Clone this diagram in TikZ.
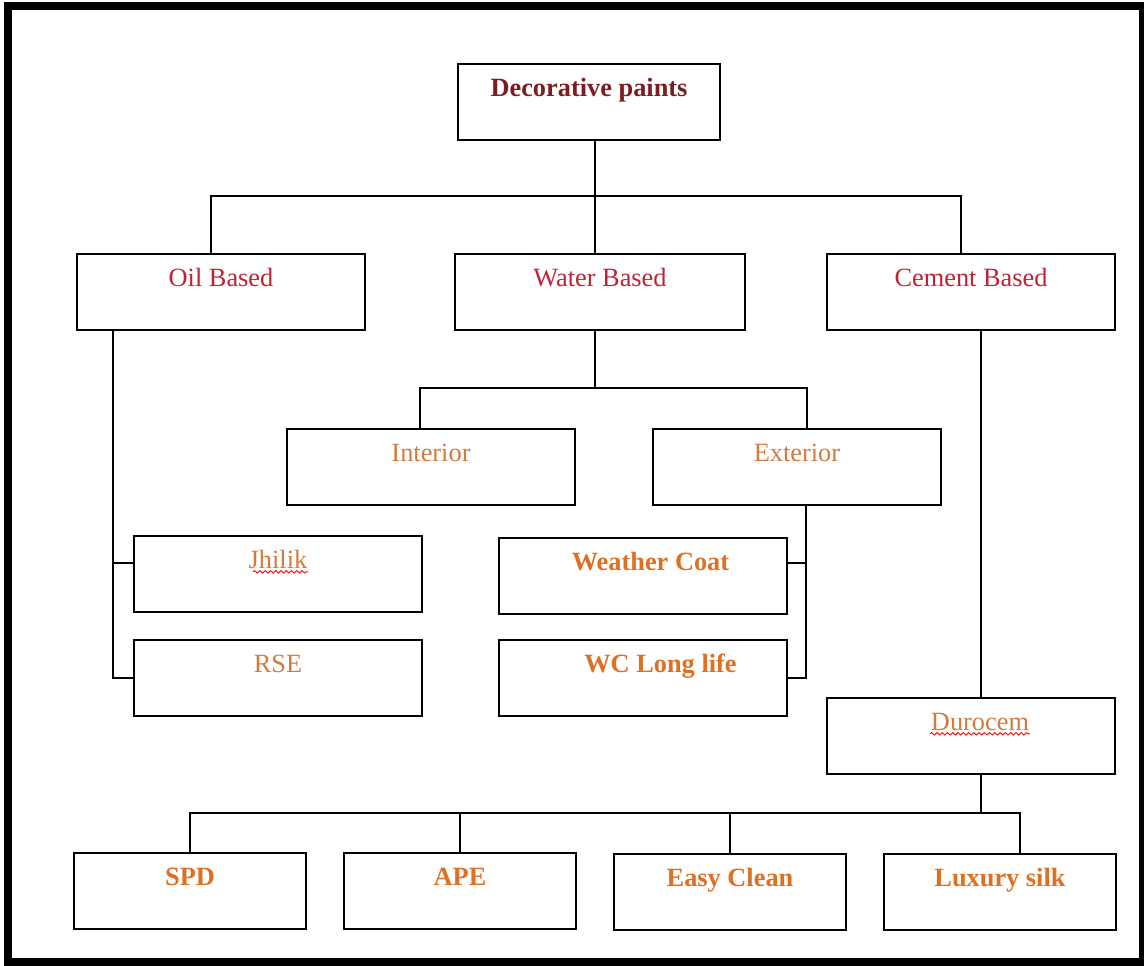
\documentclass[tikz,border=0pt]{standalone}
\usepackage{fontspec}
\setmainfont{Liberation Serif}
\usetikzlibrary{calc,decorations.pathmorphing}
\definecolor{titlered}{RGB}{125,28,35}
\definecolor{basered}{RGB}{190,35,50}
\definecolor{paleorange}{RGB}{212,122,60}
\definecolor{boldorange}{RGB}{222,112,35}
\tikzset{
  box/.style={draw, line width=1.1pt, anchor=north, minimum width=5.76cm,
    text height=18.7pt, text depth=24.4pt, inner ysep=0pt,
    font=\fontsize{15}{18}\selectfont},
  title/.style={box, text=titlered, font=\fontsize{15}{18}\selectfont\bfseries},
  base/.style={box, text=basered},
  kind/.style={box, text=paleorange},
  product/.style={box, text=boldorange, font=\fontsize{15}{18}\selectfont\bfseries},
  small/.style={minimum width=4.64cm},
  link/.style={line width=1pt},
  squig/.style={draw=red, line width=0.5pt, decorate,
    decoration={snake, amplitude=0.7pt, segment length=3pt}}
}
\begin{document}
\begin{tikzpicture}[x=0.02cm,y=-0.02cm]
\useasboundingbox (0,0) rectangle (1144,966);
\draw[line width=4.5pt] (8,6) rectangle (1143,962);
% boxes
\node[title, minimum width=5.24cm] (top) at (589,63) {Decorative paints\hspace{0.56cm}};
\node[base] (oil) at (221,253) {Oil Based};
\node[base, minimum width=5.8cm] (water) at (600,253) {Water Based};
\node[base] (cement) at (971,253) {Cement Based};
\node[kind] (interior) at (431,428) {Interior};
\node[kind] (exterior) at (797,428) {Exterior};
\node[kind] (jhilik) at (278,535) {Jhilik};
\node[kind] (rse) at (278,639) {RSE};
\node[product] (weather) at (643,537) {\hspace{0.3cm}Weather Coat};
\node[product] (wclong) at (643,639) {\hspace{0.7cm}WC Long life};
\node[kind] (durocem) at (971,697) {\hspace{0.36cm}Durocem};
\node[product, small] (spd) at (190,852) {SPD};
\node[product, small] (ape) at (460,852) {APE};
\node[product, small] (easy) at (730,853) {Easy Clean};
\node[product, small] (luxury) at (1000,853) {Luxury silk};
% spell check marks
\draw[squig] ($(jhilik.base)+(-25,3)$) -- ($(jhilik.base)+(30,3)$);
\draw[squig] ($(durocem.base)+(-41,3)$) -- ($(durocem.base)+(59,3)$);
% first level
\coordinate (busA-l) at (211,196);
\coordinate (busA-m) at (595,196);
\coordinate (busA-r) at (961,196);
\draw[link] (busA-m |- top.south) -- (busA-m |- water.north);
\draw[link] (busA-l |- oil.north) -- (busA-l) -- (busA-r) -- (busA-r |- cement.north);
% water based
\coordinate (busB-l) at (420,388);
\coordinate (busB-m) at (595,388);
\coordinate (busB-r) at (807,388);
\draw[link] (busB-m |- water.south) -- (busB-m);
\draw[link] (busB-l |- interior.north) -- (busB-l) -- (busB-r) -- (busB-r |- exterior.north);
% oil based
\coordinate (spineO) at (113,678);
\coordinate (tickJ) at (113,563);
\draw[link] (oil.south -| spineO) -- (spineO) -- (spineO -| rse.west);
\draw[link] (tickJ) -- (tickJ -| jhilik.west);
% exterior
\coordinate (spineE) at (806,678);
\coordinate (tickW) at (806,563);
\draw[link] (exterior.south -| spineE) -- (spineE) -- (spineE -| wclong.east);
\draw[link] (tickW) -- (tickW -| weather.east);
% cement based
\coordinate (dropC) at (981,500);
\draw[link] (cement.south -| dropC) -- (durocem.north -| dropC);
% durocem
\coordinate (busC-m) at (981,813);
\coordinate (busC-r) at (1020,813);
\draw[link] (busC-m |- durocem.south) -- (busC-m);
\draw[link] (spd.north) |- (busC-r) -- (busC-r |- luxury.north);
\foreach \n in {ape,easy} \draw[link] (\n.north) -- (\n.north |- busC-r);
\end{tikzpicture}
\end{document}
